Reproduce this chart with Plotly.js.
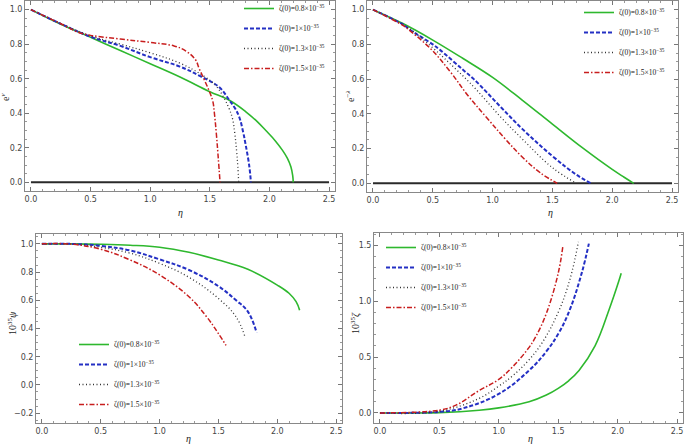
<!DOCTYPE html>
<html><head><meta charset="utf-8">
<script src="https://cdn.plot.ly/plotly-3.0.1.min.js"></script>
<style>body{margin:0;background:#fff}#c{width:685px;height:446px}</style>
</head><body><div id="c"></div>
<script>
// ---- data ----
const seriesNames = ["ζ(0)=0.8×10<sup>−35</sup>","ζ(0)=1×10<sup>−35</sup>","ζ(0)=1.3×10<sup>−35</sup>","ζ(0)=1.5×10<sup>−35</sup>"];
const xTicks = [0.0,0.5,1.0,1.5,2.0,2.5];
// panel 1: e^nu
const nuGreenX = [0,0.25,0.5,0.75,1.0,1.25,1.5,1.664,1.8,1.9,1.97,2.05,2.11,2.15,2.18,2.195,2.2];
const nuGreenY = [1.0,0.915,0.84,0.763,0.687,0.61,0.525,0.475,0.41,0.35,0.30,0.24,0.185,0.14,0.09,0.04,0.0];
const nuBlueX = [0,0.25,0.5,0.75,1.0,1.25,1.42,1.58,1.664,1.71,1.747,1.78,1.80,1.83,1.845];
const nuBlueY = [1.0,0.918,0.843,0.79,0.725,0.67,0.615,0.55,0.475,0.43,0.378,0.29,0.22,0.1,0.0];
const nuBlackX = [0,0.25,0.5,0.75,1.0,1.25,1.45,1.55,1.61,1.66,1.69,1.71,1.725,1.735,1.742];
const nuBlackY = [1.0,0.92,0.848,0.8,0.75,0.69,0.615,0.56,0.5,0.43,0.37,0.28,0.18,0.09,0.0];
const nuRedX = [0,0.25,0.4,0.5,0.75,1.0,1.2,1.3,1.38,1.41,1.45,1.5,1.525,1.54,1.555,1.57,1.586];
const nuRedY = [1.0,0.918,0.868,0.851,0.83,0.81,0.79,0.76,0.71,0.66,0.6,0.52,0.47,0.39,0.28,0.15,0.0];
// panel 2: e^-lambda
const lamGreenX = [0,0.25,0.5,0.75,1.0,1.25,1.5,1.75,2.0,2.1,2.18];
const lamGreenY = [1.0,0.92,0.825,0.72,0.61,0.478,0.341,0.205,0.08,0.035,0.0];
const lamBlueX = [0,0.25,0.31,0.5,0.563,0.75,0.843,1.07,1.25,1.5,1.7,1.822];
const lamBlueY = [1.0,0.915,0.884,0.80,0.767,0.655,0.6,0.438,0.312,0.157,0.05,0.0];
const lamBlackX = [0,0.25,0.339,0.5,0.703,0.85,1.07,1.25,1.5,1.7];
const lamBlackY = [1.0,0.913,0.874,0.78,0.651,0.55,0.38,0.254,0.09,0.0];
const lamRedX = [0,0.25,0.283,0.479,0.647,0.8,0.955,1.1,1.25,1.4,1.54];
const lamRedY = [1.0,0.91,0.893,0.777,0.642,0.5,0.375,0.26,0.15,0.06,0.0];
// panel 3: 10^35 psi
const psiGreenX = [0,0.25,0.5,0.75,1.0,1.25,1.5,1.75,2.0,2.1,2.16,2.19];
const psiGreenY = [1.0,1.0,0.997,0.99,0.976,0.94,0.886,0.82,0.708,0.65,0.59,0.53];
const psiBlueX = [0,0.25,0.5,0.75,1.0,1.25,1.5,1.65,1.75,1.824];
const psiBlueY = [1.0,1.0,0.986,0.953,0.89,0.815,0.70,0.60,0.52,0.372];
const psiBlackX = [0,0.25,0.5,0.75,1.0,1.25,1.5,1.65,1.726];
const psiBlackY = [1.0,1.0,0.976,0.934,0.862,0.763,0.613,0.483,0.34];
const psiRedX = [0,0.25,0.5,0.75,1.0,1.25,1.4,1.5,1.565];
const psiRedY = [1.0,0.998,0.962,0.886,0.78,0.625,0.483,0.364,0.28];
// panel 4: 10^35 zeta
const zetGreenX = [0,0.5,0.835,1.0,1.255,1.4,1.5,1.59,1.675,1.81,1.93,2.01,2.03];
const zetGreenY = [0,0.003,0.024,0.045,0.1,0.16,0.22,0.29,0.38,0.6,0.93,1.18,1.25];
const zetBlueX = [0,0.5,0.694,1.0,1.255,1.4,1.507,1.6,1.7,1.758];
const zetBlueY = [0,0.01,0.04,0.17,0.38,0.55,0.72,0.93,1.26,1.515];
const zetBlackX = [0,0.5,0.834,1.0,1.114,1.25,1.366,1.5,1.6,1.67];
const zetBlackY = [0,0.015,0.13,0.24,0.33,0.47,0.63,0.9,1.2,1.53];
const zetRedX = [0,0.5,0.64,0.834,1.0,1.114,1.25,1.31,1.4,1.5,1.54];
const zetRedY = [0,0.025,0.07,0.2,0.3,0.41,0.58,0.68,0.89,1.25,1.5];
const baseX = [0,2.5];
const baseY = [0,0];

// ---- styles ----
const W=685,H=446;
const styles=[
 {color:'#2eb82e',dash:'solid',width:1.6},
 {color:'#2430c4',dash:'4px,2px',width:2},
 {color:'#333333',dash:'1px,2.5px',width:1.3},
 {color:'#c81e1e',dash:'5px,2px,1.5px,2px',width:1.5}
];
const px=(x)=>x/W, py=(y)=>1-y/H;
const panels=[
 {xs:[nuGreenX,nuBlueX,nuBlackX,nuRedX],ys:[nuGreenY,nuBlueY,nuBlackY,nuRedY],base:true,leg:'legend'},
 {xs:[lamGreenX,lamBlueX,lamBlackX,lamRedX],ys:[lamGreenY,lamBlueY,lamBlackY,lamRedY],base:true,leg:'legend2'},
 {xs:[psiGreenX,psiBlueX,psiBlackX,psiRedX],ys:[psiGreenY,psiBlueY,psiBlackY,psiRedY],base:false,leg:'legend3'},
 {xs:[zetGreenX,zetBlueX,zetBlackX,zetRedX],ys:[zetGreenY,zetBlueY,zetBlackY,zetRedY],base:false,leg:'legend4'}
];
const traces=[];
panels.forEach((p,i)=>{
  const ax=i===0?'':String(i+1);
  if(p.base) traces.push({x:baseX,y:baseY,mode:'lines',xaxis:'x'+ax,yaxis:'y'+ax,line:{color:'#2a2a2a',width:2},showlegend:false,hoverinfo:'skip'});
  for(let k=0;k<4;k++){
    traces.push({x:p.xs[k],y:p.ys[k],mode:'lines',name:seriesNames[k],xaxis:'x'+ax,yaxis:'y'+ax,legendgroup:'g'+i+k,
      line:Object.assign({shape:'spline',smoothing:1.1},styles[k]),legend:p.leg});
  }
});
const tickfont={family:'DejaVu Sans',size:8,color:'#444'};
function xa(l,r){return {domain:[px(l),px(r)],range:[-0.05,2.55],tickvals:xTicks,ticktext:xTicks.map(v=>v.toFixed(1)),
  ticks:'inside',ticklen:4,tickcolor:'#777',showline:true,linecolor:'#888',linewidth:1,mirror:'ticks',
  showgrid:false,zeroline:false,tickfont:tickfont,minor:{dtick:0.1,tick0:0,ticks:'inside',ticklen:2,tickcolor:'#999'}};}
function ya(t,b,range,dt,mdt){return {domain:[py(b),py(t)],range:range,dtick:dt,tick0:0,tickformat:'.1f',
  ticks:'inside',ticklen:4,tickcolor:'#777',showline:true,linecolor:'#888',linewidth:1,mirror:'ticks',
  showgrid:false,zeroline:false,tickfont:tickfont,minor:{dtick:mdt,tick0:0,ticks:'inside',ticklen:2,tickcolor:'#999'}};}
const legFont={family:'Liberation Serif',size:7.5,color:'#222'};
function leg(x,y,xa){return {x:px(x),y:py(y),xanchor:xa,yanchor:'top',font:legFont,bgcolor:'rgba(0,0,0,0)',tracegroupgap:1,itemwidth:30};}
const tfont={family:'Liberation Serif',size:10,color:'#222'};
function ann(x,y,text,angle){return {x:px(x),y:py(y),xref:'paper',yref:'paper',text:text,showarrow:false,textangle:angle||0,font:tfont,xanchor:'center',yanchor:'middle'};}
const layout={
  width:W,height:H,margin:{l:0,r:0,t:0,b:0,autoexpand:false},paper_bgcolor:'#fff',plot_bgcolor:'#fff',
  xaxis:xa(25,335),yaxis:ya(1,191,[-0.05,1.05],0.2,0.05),
  xaxis2:Object.assign(xa(367,678),{anchor:'y2'}),yaxis2:Object.assign(ya(1,192,[-0.05,1.05],0.2,0.05),{anchor:'x2'}),
  xaxis3:Object.assign(xa(36,342),{anchor:'y3'}),yaxis3:Object.assign(ya(234,423,[-0.27,1.07],0.2,0.05),{anchor:'x3'}),
  xaxis4:Object.assign(xa(374,683),{anchor:'y4'}),yaxis4:Object.assign(ya(233,423,[-0.09,1.61],0.5,0.1),{anchor:'x4'}),
  legend:leg(330,-6,'right'),legend2:leg(670,-2,'right'),legend3:leg(74,330,'left'),legend4:leg(381,233,'left'),
  annotations:[
    ann(180,213,'<i>η</i>'),ann(550,213,'<i>η</i>'),ann(188,438,'<i>η</i>'),ann(530,438,'<i>η</i>'),
    ann(5,97,'e<sup><i>ν</i></sup>',-90),ann(350,97,'e<sup>−<i>λ</i></sup>',-90),
    ann(12,323,'10<sup>35</sup><i>ψ</i>',-90),ann(355,323,'10<sup>35</sup><i>ζ</i>',-90)
  ]
};
Plotly.newPlot('c',traces,layout,{displayModeBar:false,staticPlot:true});
</script></body></html>
